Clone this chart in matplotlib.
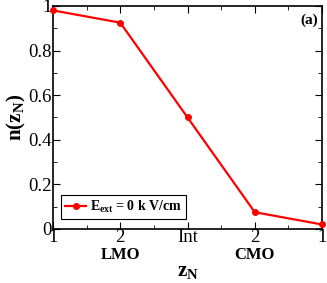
import numpy as np
import matplotlib
matplotlib.use("Agg")
import matplotlib.pyplot as plt

# layer positions and occupation
zpos = [0, 1, 2, 3, 4]
zlabels = ["1", "2", "Int", "2", "1"]
n_z = [0.98, 0.925, 0.5, 0.075, 0.02]

plt.rcParams['font.family'] = ['Liberation Serif', 'DejaVu Serif']
plt.rcParams['mathtext.fontset'] = 'custom'
plt.rcParams['mathtext.rm'] = 'Liberation Serif'
plt.rcParams['mathtext.bf'] = 'Liberation Serif:bold'

fig = plt.figure(figsize=(3.27, 2.83), dpi=100)
ax = fig.add_axes([0.162, 0.191, 0.823, 0.788])

ax.plot(zpos, n_z, color='red', lw=1.6, marker='o', ms=4, mfc='red', mec='red',
        label=r'$\mathbf{E_{ext}}$ = 0 k V/cm', clip_on=False, zorder=5)

ax.set_xlim(0, 4)
ax.set_ylim(0, 1)
ax.set_xticks(zpos)
ax.set_xticklabels(zlabels)
ax.set_xticks([0.5, 1.5, 2.5, 3.5], minor=True)
ax.set_yticks([0, 0.2, 0.4, 0.6, 0.8, 1])
ax.set_yticklabels(["0", "0.2", "0.4", "0.6", "0.8", "1"])
ax.set_yticks(np.arange(0.1, 1.0, 0.2), minor=True)
ax.tick_params(which='both', direction='in', top=True, right=True, labelsize=13.5)
ax.tick_params(axis='x', pad=0)
ax.tick_params(axis='y', pad=1)
ax.tick_params(which='major', length=5)
ax.tick_params(which='minor', length=3)
for s in ax.spines.values():
    s.set_linewidth(1.2)

ax.set_ylabel(r'$\mathbf{n(z_N)}$', fontsize=15, labelpad=0)
ax.text(2, -0.19, r'$\mathbf{z_N}$', transform=ax.get_xaxis_transform(),
        ha='center', va='center', fontsize=15)

ax.text(1, -0.118, 'LMO', transform=ax.get_xaxis_transform(), ha='center', va='center',
        fontsize=12, fontweight='bold')
ax.text(3, -0.118, 'CMO', transform=ax.get_xaxis_transform(), ha='center', va='center',
        fontsize=12, fontweight='bold')
ax.text(0.985, 0.965, '(a)', transform=ax.transAxes, ha='right', va='top',
        fontsize=11, fontweight='bold')

leg = ax.legend(loc='lower left', bbox_to_anchor=(0.02, 0.03), fancybox=False,
                edgecolor='black', framealpha=1, handlelength=1.5, borderpad=0.3,
                handletextpad=0.3, borderaxespad=0.2, prop={'weight': 'bold', 'size': 10})
leg.get_frame().set_linewidth(0.8)

fig.savefig('out.png', dpi=100)
